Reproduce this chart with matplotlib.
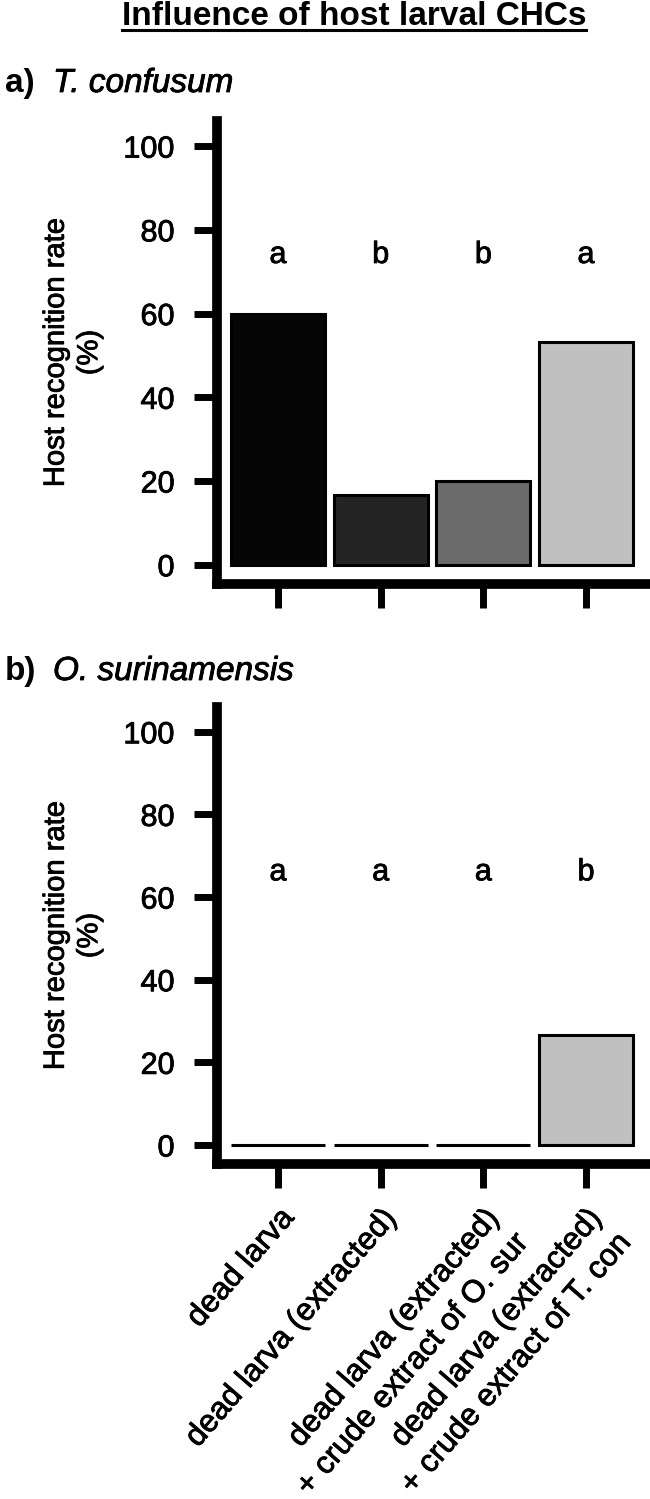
import matplotlib
matplotlib.use('Agg')
import matplotlib.pyplot as plt
import matplotlib.patheffects as pe
from matplotlib.lines import Line2D

plt.rcParams['font.family'] = ['Liberation Sans', 'DejaVu Sans']

# Data
categories = ['dead larva',
              'dead larva (extracted)',
              'dead larva (extracted)\n+ crude extract of O. sur',
              'dead larva (extracted)\n+ crude extract of T. con']
tcon_rate = [60.0, 16.7, 20.0, 53.3]
osur_rate = [0.0, 0.0, 0.0, 26.7]
tcon_letters = ['a', 'b', 'b', 'a']
osur_letters = ['a', 'a', 'a', 'b']
bar_colors = ['#050505', '#242424', '#6b6b6b', '#c0c0c0']
yticks = [0, 20, 40, 60, 80, 100]

W, H = 650, 1499
fig = plt.figure(figsize=(W / 100, H / 100), dpi=100)

# slightly heavier glyphs, like the scanned original
heavy = [pe.withStroke(linewidth=0.6, foreground='black')]


def px_axes(left, top, right, bottom):
    # axes placed by pixel edges (origin top-left)
    return fig.add_axes([left / W, 1 - bottom / H, (right - left) / W, (bottom - top) / H])


def draw_panel(ax, values, letters, letter_y, show_labels):
    x = list(range(len(values)))
    ax.bar(x, values, width=0.915, color=bar_colors, edgecolor='black', linewidth=2.2)
    for xi, lab in zip(x, letters):
        ax.text(xi, letter_y, lab, ha='center', va='center', fontsize=22, path_effects=heavy)
    ax.set_xlim(-0.594, 3.604)
    ax.set_ylim(-4.6, 106)
    ax.set_yticks(yticks)
    ax.set_xticks(x)
    for side in ['top', 'right']:
        ax.spines[side].set_visible(False)
    for side in ['left', 'bottom']:
        ax.spines[side].set_linewidth(7)
        ax.spines[side].set_capstyle('projecting')
    ax.tick_params(axis='y', length=16.5, width=5, labelsize=22, pad=14)
    ax.tick_params(axis='x', length=17, width=5, labelsize=22.5, pad=11)
    if show_labels:
        ax.set_xticklabels(categories, rotation=49, ha='right', va='top',
                           rotation_mode='anchor', multialignment='right',
                           linespacing=1.35)
    else:
        ax.set_xticklabels([])
    for lab in ax.get_xticklabels() + ax.get_yticklabels():
        lab.set_path_effects(heavy)
    ax.text(-(217 - 72.5) / 431, 0.5, 'Host recognition rate\n(%)', transform=ax.transAxes,
            rotation=90, ha='center', va='center', fontsize=21, linespacing=1.25,
            path_effects=heavy)


ax1 = px_axes(217, 121, 648, 584)
ax2 = px_axes(217, 707, 648, 1164)
draw_panel(ax1, tcon_rate, tcon_letters, 74, False)
draw_panel(ax2, osur_rate, osur_letters, 66, True)

title = fig.text(354 / W, 1 - 25 / H, 'Influence of host larval CHCs', ha='center',
                 va='baseline', fontsize=24, fontweight='bold')
fig.text(5 / W, 1 - 92 / H, 'a)', fontsize=24, fontweight='bold', va='baseline')
fig.text(53 / W, 1 - 92 / H, 'T. confusum', fontsize=24, style='italic', va='baseline',
         path_effects=heavy)
fig.text(5 / W, 1 - 680 / H, 'b)', fontsize=24, fontweight='bold', va='baseline')
fig.text(53 / W, 1 - 680 / H, 'O. surinamensis', fontsize=24, style='italic', va='baseline',
         path_effects=heavy)

# underline the title
fig.canvas.draw()
bb = title.get_window_extent()
inv = fig.transFigure.inverted()
x0, _ = inv.transform((bb.x0, 0))
x1, _ = inv.transform((bb.x1, 0))
uy = 1 - 29.5 / H
fig.add_artist(Line2D([x0, x1], [uy, uy], transform=fig.transFigure, color='black', linewidth=2.2))

fig.savefig('out.png', dpi=100)
